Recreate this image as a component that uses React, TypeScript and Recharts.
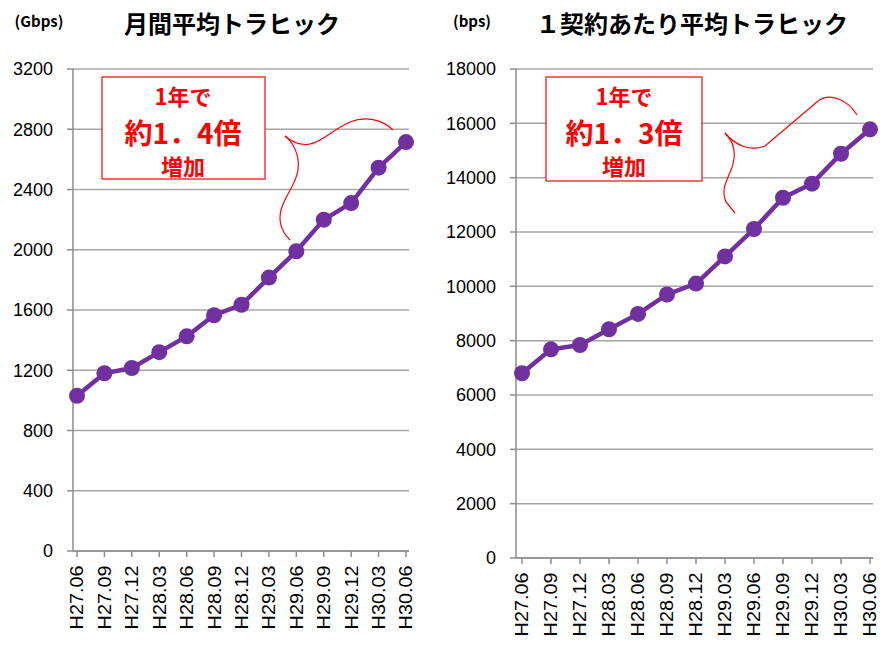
import { CartesianGrid, Line, LineChart, XAxis, YAxis } from "recharts";

const periods = [
	"H27.06",
	"H27.09",
	"H27.12",
	"H28.03",
	"H28.06",
	"H28.09",
	"H28.12",
	"H29.03",
	"H29.06",
	"H29.09",
	"H29.12",
	"H30.03",
	"H30.06",
];

// 月間平均トラヒック (Gbps)
const monthlyTraffic = [
	1030, 1180, 1215, 1320, 1425, 1565, 1635, 1815, 1990, 2200, 2310, 2545, 2715,
];
const monthlyTicks = [0, 400, 800, 1200, 1600, 2000, 2400, 2800, 3200];

// 1契約あたり平均トラヒック (bps)
const perContractTraffic = [
	6800, 7680, 7840, 8420, 8985, 9700, 10100, 11100, 12110, 13260, 13780,
	14880, 15780,
];
const perContractTicks = [
	0, 2000, 4000, 6000, 8000, 10000, 12000, 14000, 16000, 18000,
];

const purple = "#7030a0";
const red = "#ff0000";
const jpFont = '"Noto Sans CJK JP", "Noto Sans", sans-serif';
const numFont = '"Liberation Sans", Arial, sans-serif';

function PeriodTick({ x, y, payload }: any) {
	return (
		<g transform={`translate(${x},${y})`}>
			<text
				transform="rotate(-90) scale(1.1,1)"
				x={-6}
				y={0}
				dy="0.36em"
				textAnchor="end"
				fill="#000"
				fontSize={18}
				fontFamily={numFont}
			>
				{payload.value}
			</text>
		</g>
	);
}

function TrafficChart({
	values,
	ticks,
	width,
	height,
	top,
	right,
	axisHeight,
	yWidth,
	padding,
}: {
	values: number[];
	ticks: number[];
	width: number;
	height: number;
	top: number;
	right: number;
	axisHeight: number;
	yWidth: number;
	padding: { left: number; right: number };
}) {
	const data = periods.map((label, i) => ({ label, value: values[i] }));
	const max = ticks[ticks.length - 1];
	return (
		<LineChart
			width={width}
			height={height}
			data={data}
			margin={{ top, right, bottom: 0, left: 0 }}
		>
			<CartesianGrid vertical={false} stroke="#a6a6a6" strokeWidth={1.5} />
			<XAxis
				dataKey="label"
				interval={0}
				padding={padding}
				tickSize={6}
				stroke="#8c8c8c"
				strokeWidth={1.5}
				tick={<PeriodTick />}
				height={axisHeight}
			/>
			<XAxis
				xAxisId="top"
				dataKey="label"
				orientation="top"
				height={0}
				tick={false}
				tickLine={false}
				stroke="#222"
				strokeWidth={1.5}
			/>
			<YAxis
				domain={[0, max]}
				ticks={ticks}
				interval={0}
				width={yWidth}
				tickSize={6}
				tickMargin={14}
				stroke="#8c8c8c"
				strokeWidth={1.5}
				tick={{ fill: "#000", fontSize: 18, fontFamily: numFont }}
			/>
			<YAxis
				yAxisId="right"
				orientation="right"
				width={0}
				domain={[0, max]}
				tick={false}
				tickLine={false}
				stroke="#222"
				strokeWidth={1.5}
			/>
			<Line
				type="linear"
				dataKey="value"
				stroke={purple}
				strokeWidth={4.5}
				dot={{ r: 8, fill: purple, stroke: purple, strokeWidth: 0 }}
				isAnimationActive={false}
			/>
		</LineChart>
	);
}

function Callout({
	cx,
	top,
	left,
	right,
	bottom,
	ratio,
}: {
	cx: number;
	top: number;
	left: number;
	right: number;
	bottom: number;
	ratio: string;
}) {
	return (
		<g fontFamily={jpFont} fontWeight={700} fill={red} textAnchor="middle">
			<rect
				x={left}
				y={top}
				width={right - left}
				height={bottom - top}
				fill="#fff"
				stroke={red}
				strokeWidth={1.2}
			/>
			<text x={cx} y={top + 20} dy="0.36em" fontSize={22}>
				1年で
			</text>
			<text x={cx} y={top + 57} dy="0.36em" fontSize={28}>
				{`約1．${ratio}倍`}
			</text>
			<text x={cx} y={top + 90} dy="0.36em" fontSize={22}>
				増加
			</text>
		</g>
	);
}

export default function App() {
	return (
		<div
			style={{
				position: "absolute",
				left: 0,
				top: 0,
				width: 895,
				height: 649,
				background: "#fff",
				overflow: "hidden",
			}}
		>
			<div style={{ position: "absolute", left: 0, top: 0 }}>
				<TrafficChart
					values={monthlyTraffic}
					ticks={monthlyTicks}
					width={440}
					height={649}
					top={69}
					right={31}
					axisHeight={98}
					yWidth={73}
					padding={{ left: 4, right: 3 }}
				/>
			</div>
			<div style={{ position: "absolute", left: 440, top: 0 }}>
				<TrafficChart
					values={perContractTraffic}
					ticks={perContractTicks}
					width={455}
					height={649}
					top={69}
					right={22}
					axisHeight={91}
					yWidth={76}
					padding={{ left: 6, right: 3 }}
				/>
			</div>
			<svg
				width={895}
				height={649}
				style={{ position: "absolute", left: 0, top: 0, pointerEvents: "none" }}
			>
				<text
					x={39}
					y={22}
					dy="0.36em"
					textAnchor="middle"
					fontFamily={jpFont}
					fontWeight={700}
					fontSize={15}
				>
					(Gbps)
				</text>
				<text
					x={232}
					y={24}
					dy="0.36em"
					textAnchor="middle"
					fontFamily={jpFont}
					fontWeight={700}
					fontSize={24}
				>
					月間平均トラヒック
				</text>
				<text
					x={472}
					y={22}
					dy="0.36em"
					textAnchor="middle"
					fontFamily={jpFont}
					fontWeight={700}
					fontSize={15}
				>
					(bps)
				</text>
				<text
					x={692}
					y={24}
					dy="0.36em"
					textAnchor="middle"
					fontFamily={jpFont}
					fontWeight={700}
					fontSize={24}
				>
					１契約あたり平均トラヒック
				</text>

				<Callout cx={183} left={102} right={265} top={77} bottom={179} ratio="4" />
				<Callout cx={624} left={546} right={702} top={77} bottom={181} ratio="3" />

				{/* braces */}
				<g fill="none" stroke={red} strokeWidth={1.2}>
					<path d="M285,136 C292,142 300,146 310,144 C322,142 335,128 350,122 C365,116 382,119 393,130" />
					<path d="M285,136 C293,142 300,155 298,170 C296,185 285,195 281,210 C278,222 282,232 290,240" />
					<path d="M725,133 C735,145 750,152 765,146 L818,101 C830,92 848,100 857,115" />
					<path d="M725,133 C735,143 737,155 731,170 C726,182 721,190 726,202 L735,213" />
				</g>
			</svg>
		</div>
	);
}
